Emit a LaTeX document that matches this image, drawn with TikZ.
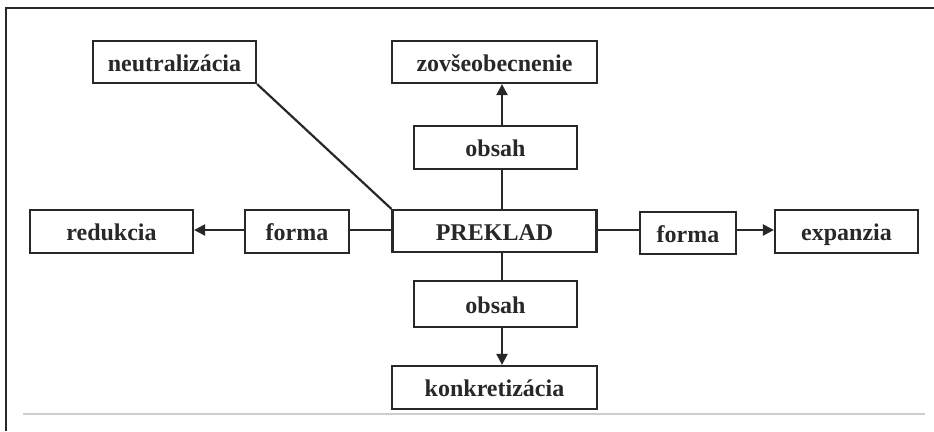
\documentclass[tikz,border=0pt]{standalone}
\usepackage{fontspec}
\setmainfont{Liberation Serif}
\usetikzlibrary{arrows.meta}
\definecolor{ink}{RGB}{40,40,40}
\definecolor{rule}{RGB}{205,205,205}
\begin{document}
\begin{tikzpicture}[x=1pt,y=-1pt,
  box/.style={draw=ink,line width=2.2pt,rectangle,inner sep=0pt,
    text height=20pt,text depth=2pt,
    font=\fontsize{24}{26}\selectfont\bfseries,text=ink},
  conn/.style={draw=ink,line width=2.2pt},
  arr/.style={conn,-{Triangle[length=11pt,width=11pt]}}]
\useasboundingbox (0,0) rectangle (934,431);
% frame
\draw[ink,line width=2.2pt] (6,431) -- (6,8) -- (934,8);
\draw[rule,line width=2pt] (23,414) -- (925,414);
% nodes
\node[box,minimum width=163pt,minimum height=42pt] (neu) at (174.5,62) {neutralizácia};
\node[box,minimum width=205pt,minimum height=42pt] (zov) at (494.5,62) {zovšeobecnenie};
\node[box,minimum width=163pt,minimum height=43pt] (obT) at (495.5,147.5) {obsah};
\node[box,minimum width=204pt,minimum height=42pt] (prek) at (494.5,231) {PREKLAD};
\node[box,minimum width=104pt,minimum height=43pt] (forL) at (297,231.5) {forma};
\node[box,minimum width=163pt,minimum height=43pt] (red) at (111.5,231.5) {redukcia};
\node[box,minimum width=96pt,minimum height=42pt] (forR) at (688,233) {forma};
\node[box,minimum width=143pt,minimum height=43pt] (exp) at (846.5,231.5) {expanzia};
\node[box,minimum width=163pt,minimum height=46pt] (obB) at (495.5,304) {obsah};
\node[box,minimum width=205pt,minimum height=43pt] (kon) at (494.5,387.5) {konkretizácia};
\coordinate (vx) at (502,0);
\coordinate (hy) at (0,230);
% connectors
\draw[conn] (prek.north -| vx) -- (obT.south -| vx);
\draw[arr] (obT.north -| vx) -- (zov.south -| vx);
\draw[conn] (prek.south -| vx) -- (obB.north -| vx);
\draw[arr] (obB.south -| vx) -- (kon.north -| vx);
\draw[conn] (prek.west |- hy) -- (forL.east |- hy);
\draw[arr] (forL.west |- hy) -- (red.east |- hy);
\draw[conn] (prek.east |- hy) -- (forR.west |- hy);
\draw[arr] (forR.east |- hy) -- (exp.west |- hy);
\draw[conn] (neu.south east) -- (prek.north west);
\end{tikzpicture}
\end{document}
